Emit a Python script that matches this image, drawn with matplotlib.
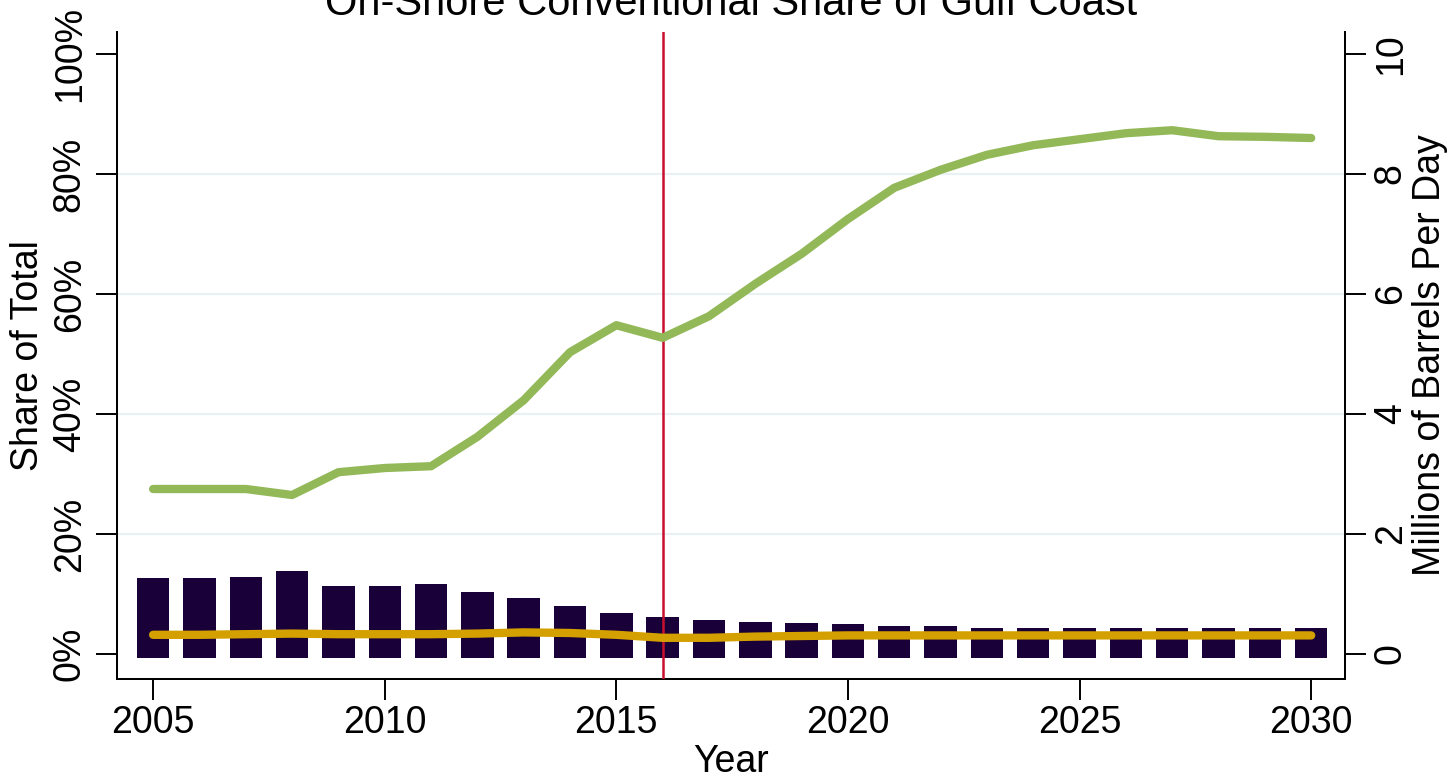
import matplotlib
matplotlib.use('Agg')
import matplotlib.pyplot as plt
import numpy as np

plt.rcParams['font.family'] = ['Liberation Sans', 'DejaVu Sans']

years = list(range(2005, 2031))
# share of total (%), left axis
green_share = [27.5, 27.5, 27.5, 26.5, 30.3, 31.0, 31.3, 36.2, 42.3, 50.3, 54.8, 52.7, 56.3,
               61.7, 66.7, 72.5, 77.7, 80.7, 83.2, 84.8, 85.8, 86.8, 87.3, 86.3, 86.2, 86.0]
yellow_share = [3.2, 3.2, 3.3, 3.4, 3.3, 3.3, 3.3, 3.4, 3.6, 3.5, 3.2, 2.7, 2.7,
                2.9, 3.0, 3.1, 3.1, 3.1, 3.1, 3.1, 3.1, 3.1, 3.1, 3.1, 3.1, 3.1]
# millions of barrels per day, right axis
barrels = [1.26, 1.26, 1.29, 1.38, 1.14, 1.14, 1.17, 1.04, 0.93, 0.80, 0.68, 0.61, 0.56,
           0.54, 0.52, 0.50, 0.47, 0.47, 0.44, 0.44, 0.43, 0.43, 0.43, 0.43, 0.43, 0.43]
cutoff_year = 2016

FS = 27
fig = plt.figure(figsize=(14.56, 7.77), dpi=100)
ax = fig.add_axes([117/1456, 1-679/777, (1345-117)/1456, (679-32)/777])
ax2 = ax.twinx()
ax.set_zorder(ax2.get_zorder() + 1)
ax.patch.set_visible(False)

# bars on right axis (drawn from slightly below zero, like the original)
base = -0.07
ax2.bar(years, np.array(barrels) - base, width=0.7, bottom=base, color='#1a0038', zorder=2)
ax2.set_ylim(-0.4167, 10.367)
ax2.set_yticks(range(0, 11, 2))
ax2.set_ylabel('Millions of Barrels Per Day', fontsize=FS, labelpad=2)

# gridlines + lines on left axis
for g in [20, 40, 60, 80]:
    ax.axhline(g, color='#eaf1f3', lw=1.6, zorder=0)
ax.axvline(cutoff_year, color='#c8102e', lw=1.8, zorder=3)
ax.plot(years, yellow_share, color='#d4a000', lw=6, solid_capstyle='round', zorder=4)
ax.plot(years, green_share, color='#92b858', lw=6, solid_capstyle='round', zorder=5)
ax.set_ylim(-4.167, 103.67)
ax.set_yticks(range(0, 101, 20))
ax.set_yticklabels([f'{v}%' for v in range(0, 101, 20)])
ax.set_ylabel('Share of Total', fontsize=FS, labelpad=4)
ax.set_xlim(2004.22, 2030.73)
ax.set_xticks(range(2005, 2031, 5))

for a in (ax, ax2):
    a.spines['top'].set_visible(False)
    for s in a.spines.values():
        s.set_linewidth(1.4)
    a.tick_params(axis='both', labelsize=FS, length=15, width=1.4)
ax.tick_params(axis='y', pad=6)
ax2.tick_params(axis='y', pad=5)
for lab in ax.get_yticklabels():
    lab.set_rotation(90)
    lab.set_va('center')
for lab in ax2.get_yticklabels():
    lab.set_rotation(90)
    lab.set_va('center')

fig.text(731/1456, 1-15/777, 'On-Shore Conventional Share of Gulf Coast',
         fontsize=30, ha='center', va='baseline')
fig.text(731/1456, 1-772/777, 'Year', fontsize=FS, ha='center', va='baseline')

fig.savefig('out.png', dpi=100)
